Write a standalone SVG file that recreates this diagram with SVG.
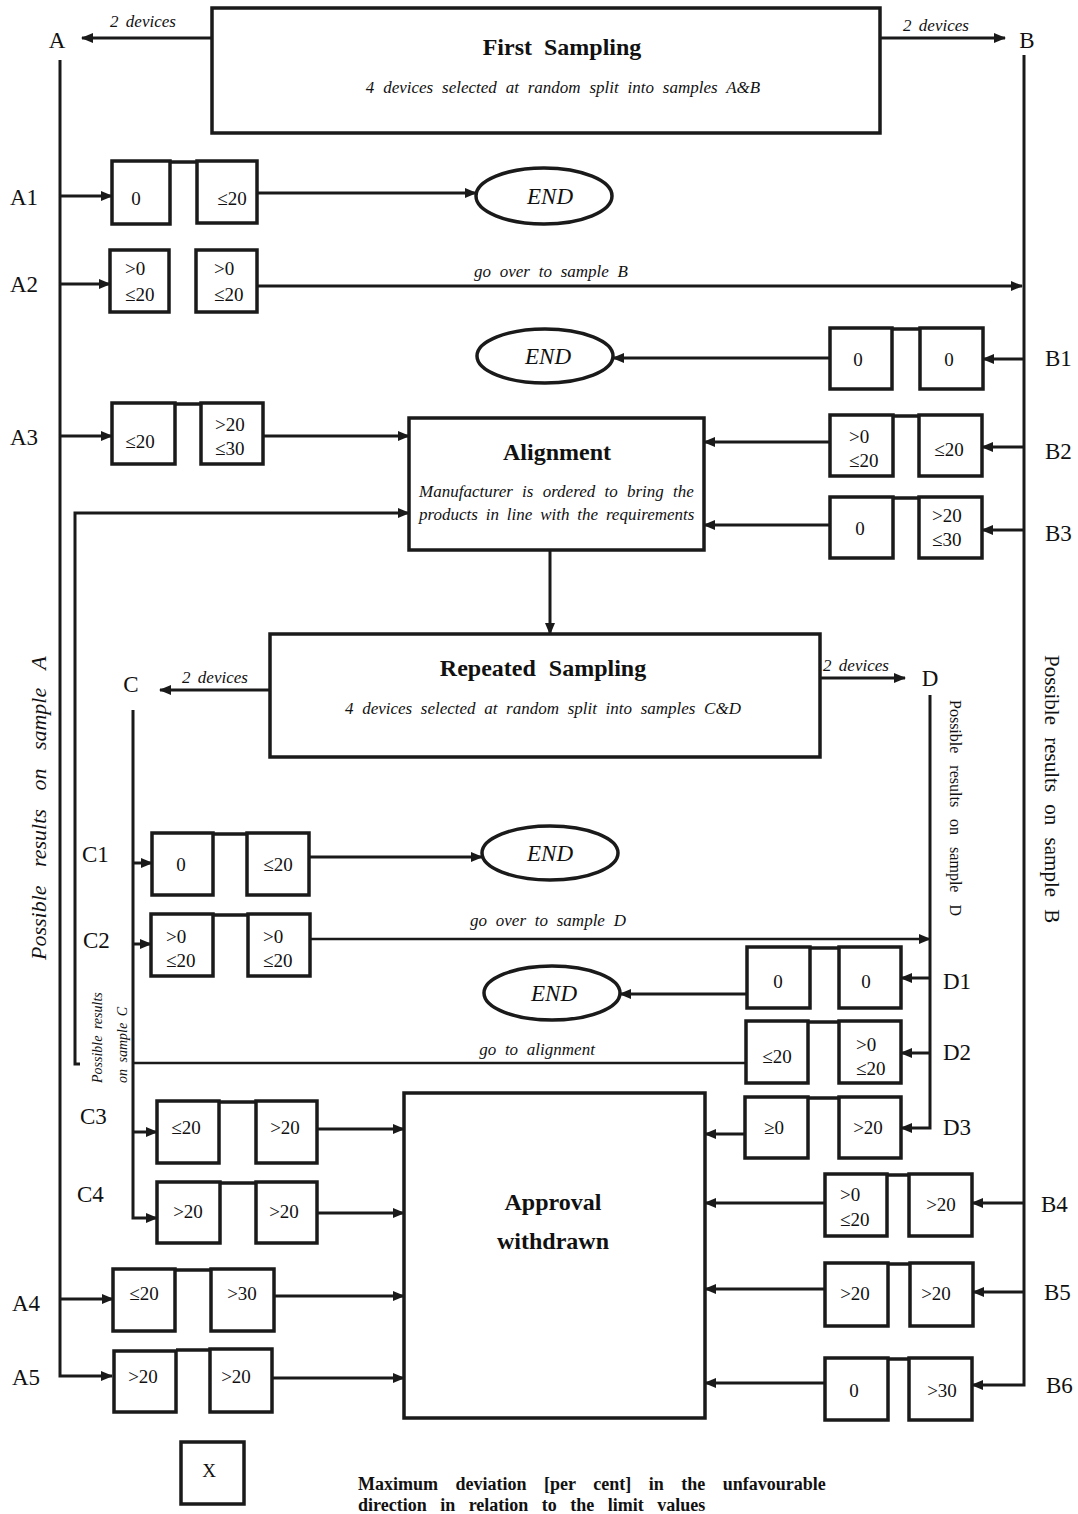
<svg xmlns="http://www.w3.org/2000/svg" width="1078" height="1514" viewBox="0 0 1078 1514">
<style>
text{font-family:"Liberation Serif","DejaVu Serif",serif;fill:#111}
.bx{fill:#fff;stroke:#1a1a1a;stroke-width:3.5}
.tc{fill:none;stroke:#1a1a1a;stroke-width:3.5}
.ln{fill:none;stroke:#1a1a1a;stroke-width:3}
.lnt{fill:none;stroke:#1a1a1a;stroke-width:2.5}
.num{font-size:19px}
.lab{font-size:23px}
.it{font-style:italic}
.bd{font-weight:bold}
.hd{font-weight:bold;font-size:24px}
.end{font-size:23px;font-style:italic}
.dv{font-size:17px;font-style:italic;word-spacing:3px}
</style>
<defs>
<marker id="ah" markerUnits="userSpaceOnUse" markerWidth="12" markerHeight="10" refX="11" refY="5" orient="auto">
<path d="M0,0 L12,5 L0,10 z" fill="#1a1a1a"/>
</marker>
</defs>

<g id="connectors">
<path class="ln" d="M212,38 H82" marker-end="url(#ah)"/>
<path class="ln" d="M880,38 H1005" marker-end="url(#ah)"/>
<path class="ln" d="M60,60 V1376 H112" marker-end="url(#ah)"/>
<path class="ln" d="M1024,55 V1385 H972" marker-end="url(#ah)"/>
<path class="ln" d="M60,196 H112" marker-end="url(#ah)"/>
<path class="ln" d="M257,193 H476" marker-end="url(#ah)"/>
<path class="ln" d="M60,284 H110" marker-end="url(#ah)"/>
<path class="ln" d="M257,286 H1022" marker-end="url(#ah)"/>
<path class="ln" d="M60,436 H112" marker-end="url(#ah)"/>
<path class="ln" d="M263,436 H409" marker-end="url(#ah)"/>
<path class="ln" d="M1024,359 H983" marker-end="url(#ah)"/>
<path class="ln" d="M830,358 H613" marker-end="url(#ah)"/>
<path class="ln" d="M1024,447 H982" marker-end="url(#ah)"/>
<path class="ln" d="M830,442 H704" marker-end="url(#ah)"/>
<path class="ln" d="M1024,530 H982" marker-end="url(#ah)"/>
<path class="ln" d="M830,525 H704" marker-end="url(#ah)"/>
<path class="ln" d="M550,550 V634" marker-end="url(#ah)"/>
<path class="ln" d="M80,1064 H75 V513 H409" marker-end="url(#ah)"/>
<path class="ln" d="M270,690 H160" marker-end="url(#ah)"/>
<path class="ln" d="M820,678 H905" marker-end="url(#ah)"/>
<path class="ln" d="M133,710 V1218 H157" marker-end="url(#ah)"/>
<path class="ln" d="M133,863 H152" marker-end="url(#ah)"/>
<path class="ln" d="M309,857 H482" marker-end="url(#ah)"/>
<path class="ln" d="M133,944 H151" marker-end="url(#ah)"/>
<path class="lnt" d="M310,939 H930" marker-end="url(#ah)"/>
<path class="ln" d="M930,695 V1128 H901" marker-end="url(#ah)"/>
<path class="ln" d="M930,978 H901" marker-end="url(#ah)"/>
<path class="ln" d="M747,994 H620" marker-end="url(#ah)"/>
<path class="ln" d="M930,1053 H901" marker-end="url(#ah)"/>
<path class="lnt" d="M746,1063 H133"/>
<path class="ln" d="M745,1134 H705" marker-end="url(#ah)"/>
<path class="ln" d="M133,1132 H157" marker-end="url(#ah)"/>
<path class="ln" d="M317,1129 H404" marker-end="url(#ah)"/>
<path class="ln" d="M317,1213 H404" marker-end="url(#ah)"/>
<path class="ln" d="M60,1299 H113" marker-end="url(#ah)"/>
<path class="ln" d="M274,1296 H404" marker-end="url(#ah)"/>
<path class="ln" d="M272,1378 H404" marker-end="url(#ah)"/>
<path class="ln" d="M1024,1203 H972" marker-end="url(#ah)"/>
<path class="ln" d="M825,1203 H705" marker-end="url(#ah)"/>
<path class="ln" d="M1024,1292 H973" marker-end="url(#ah)"/>
<path class="ln" d="M825,1289 H705" marker-end="url(#ah)"/>
<path class="ln" d="M825,1383 H705" marker-end="url(#ah)"/>
<text class="it" x="551" y="277" font-size="17" word-spacing="4.5" text-anchor="middle">go over to sample B</text>
<text class="it" x="548" y="926" font-size="17" word-spacing="4.5" text-anchor="middle">go over to sample D</text>
<text class="it" x="537" y="1055" font-size="17" word-spacing="4.5" text-anchor="middle">go to alignment</text>
<text class="dv" x="143" y="27" text-anchor="middle">2 devices</text>
<text class="dv" x="936" y="31" text-anchor="middle">2 devices</text>
<text class="dv" x="215" y="683" text-anchor="middle">2 devices</text>
<text class="dv" x="856" y="671" text-anchor="middle">2 devices</text>
</g>

<g id="labels">
<text class="lab" x="57" y="48" text-anchor="middle">A</text>
<text class="lab" x="1027" y="48" text-anchor="middle">B</text>
<text class="lab" x="131" y="692" text-anchor="middle">C</text>
<text class="lab" x="930" y="686" text-anchor="middle">D</text>
<text class="lab" x="10" y="205">A1</text>
<text class="lab" x="10" y="292">A2</text>
<text class="lab" x="10" y="445">A3</text>
<text class="lab" x="12" y="1311">A4</text>
<text class="lab" x="12" y="1385">A5</text>
<text class="lab" x="1045" y="366">B1</text>
<text class="lab" x="1045" y="459">B2</text>
<text class="lab" x="1045" y="541">B3</text>
<text class="lab" x="1041" y="1212">B4</text>
<text class="lab" x="1044" y="1300">B5</text>
<text class="lab" x="1046" y="1393">B6</text>
<text class="lab" x="82" y="862">C1</text>
<text class="lab" x="83" y="948">C2</text>
<text class="lab" x="80" y="1124">C3</text>
<text class="lab" x="77" y="1202">C4</text>
<text class="lab" x="943" y="989">D1</text>
<text class="lab" x="943" y="1060">D2</text>
<text class="lab" x="943" y="1135">D3</text>
<text class="it" font-size="22" word-spacing="13" transform="translate(46,960) rotate(-90)">Possible results on sample A</text>
<text font-size="21" word-spacing="7" transform="translate(1045,655) rotate(90)">Possible results on sample B</text>
<text font-size="16" word-spacing="8" transform="translate(950,700) rotate(90)">Possible results on sample D</text>
<text class="it" font-size="14" word-spacing="3" transform="translate(102,1083) rotate(-90)">Possible results</text>
<text class="it" font-size="14" word-spacing="3" transform="translate(127,1083) rotate(-90)">on sample C</text>
</g>

<g id="first-sampling">
<rect class="bx" x="212" y="8" width="668" height="125"/>
<text class="hd" x="562" y="55" word-spacing="6" text-anchor="middle">First Sampling</text>
<text class="it" x="563" y="93" font-size="17" word-spacing="4.6" text-anchor="middle">4 devices selected at random split into samples A&amp;B</text>
</g>

<g id="alignment">
<rect class="bx" x="409" y="418" width="295" height="132"/>
<text class="hd" x="557" y="460" text-anchor="middle">Alignment</text>
<text class="it" x="419" y="497" font-size="17" word-spacing="5">Manufacturer is ordered to bring the</text>
<text class="it" x="419" y="520" font-size="17" word-spacing="3.6">products in line with the requirements</text>
</g>

<g id="repeated-sampling">
<rect class="bx" x="270" y="634" width="550" height="123"/>
<text class="hd" x="543" y="676" word-spacing="7" text-anchor="middle">Repeated Sampling</text>
<text class="it" x="543" y="714" font-size="17" word-spacing="4.4" text-anchor="middle">4 devices selected at random split into samples C&amp;D</text>
</g>

<g id="approval-withdrawn">
<rect class="bx" x="404" y="1093" width="301" height="325"/>
<text class="hd" x="553" y="1210" text-anchor="middle">Approval</text>
<text class="hd" x="553" y="1249" text-anchor="middle">withdrawn</text>
</g>

<g id="end-1"><ellipse class="bx" cx="544" cy="196" rx="68" ry="28"/><text class="end" x="550" y="204" text-anchor="middle">END</text></g>
<g id="end-2"><ellipse class="bx" cx="545" cy="356" rx="68" ry="27"/><text class="end" x="548" y="364" text-anchor="middle">END</text></g>
<g id="end-3"><ellipse class="bx" cx="550" cy="853" rx="68" ry="27"/><text class="end" x="550" y="861" text-anchor="middle">END</text></g>
<g id="end-4"><ellipse class="bx" cx="552" cy="993" rx="68" ry="27"/><text class="end" x="554" y="1001" text-anchor="middle">END</text></g>

<g id="a1">
<path class="tc" d="M170,162 H197"/>
<rect class="bx" x="112" y="161" width="58" height="63"/>
<rect class="bx" x="197" y="161" width="60" height="62"/>
<text class="num" x="136" y="205" text-anchor="middle">0</text>
<text class="num" x="232" y="205" text-anchor="middle">≤20</text>
</g>
<g id="a2">
<rect class="bx" x="110" y="250" width="59" height="62"/>
<rect class="bx" x="196" y="250" width="61" height="62"/>
<text class="num" x="125" y="275">&gt;0</text>
<text class="num" x="125" y="301">≤20</text>
<text class="num" x="214" y="275">&gt;0</text>
<text class="num" x="214" y="301">≤20</text>
</g>
<g id="a3">
<path class="tc" d="M175,404 H201"/>
<rect class="bx" x="112" y="403" width="63" height="61"/>
<rect class="bx" x="201" y="403" width="62" height="61"/>
<text class="num" x="140" y="448" text-anchor="middle">≤20</text>
<text class="num" x="215" y="431">&gt;20</text>
<text class="num" x="215" y="455">≤30</text>
</g>
<g id="b1">
<path class="tc" d="M892,329 H920"/>
<rect class="bx" x="830" y="328" width="62" height="61"/>
<rect class="bx" x="920" y="328" width="63" height="61"/>
<text class="num" x="858" y="366" text-anchor="middle">0</text>
<text class="num" x="949" y="366" text-anchor="middle">0</text>
</g>
<g id="b2">
<path class="tc" d="M893,416 H919"/>
<rect class="bx" x="830" y="415" width="63" height="61"/>
<rect class="bx" x="919" y="415" width="63" height="61"/>
<text class="num" x="849" y="443">&gt;0</text>
<text class="num" x="849" y="467">≤20</text>
<text class="num" x="949" y="456" text-anchor="middle">≤20</text>
</g>
<g id="b3">
<path class="tc" d="M893,498 H919"/>
<rect class="bx" x="830" y="497" width="63" height="61"/>
<rect class="bx" x="919" y="497" width="63" height="61"/>
<text class="num" x="860" y="535" text-anchor="middle">0</text>
<text class="num" x="932" y="522">&gt;20</text>
<text class="num" x="932" y="546">≤30</text>
</g>
<g id="c1">
<path class="tc" d="M213,834 H247"/>
<rect class="bx" x="152" y="833" width="61" height="62"/>
<rect class="bx" x="247" y="833" width="62" height="62"/>
<text class="num" x="181" y="871" text-anchor="middle">0</text>
<text class="num" x="278" y="871" text-anchor="middle">≤20</text>
</g>
<g id="c2">
<path class="tc" d="M213,915 H248"/>
<rect class="bx" x="151" y="914" width="62" height="62"/>
<rect class="bx" x="248" y="914" width="62" height="62"/>
<text class="num" x="166" y="943">&gt;0</text>
<text class="num" x="166" y="967">≤20</text>
<text class="num" x="263" y="943">&gt;0</text>
<text class="num" x="263" y="967">≤20</text>
</g>
<g id="c3">
<path class="tc" d="M219,1102 H256"/>
<rect class="bx" x="157" y="1101" width="62" height="62"/>
<rect class="bx" x="256" y="1101" width="61" height="62"/>
<text class="num" x="186" y="1134" text-anchor="middle">≤20</text>
<text class="num" x="285" y="1134" text-anchor="middle">&gt;20</text>
</g>
<g id="c4">
<path class="tc" d="M220,1183 H256"/>
<rect class="bx" x="157" y="1182" width="63" height="61"/>
<rect class="bx" x="256" y="1182" width="61" height="61"/>
<text class="num" x="188" y="1218" text-anchor="middle">&gt;20</text>
<text class="num" x="284" y="1218" text-anchor="middle">&gt;20</text>
</g>
<g id="d1">
<path class="tc" d="M810,948 H839"/>
<rect class="bx" x="747" y="947" width="63" height="61"/>
<rect class="bx" x="839" y="947" width="62" height="61"/>
<text class="num" x="778" y="988" text-anchor="middle">0</text>
<text class="num" x="866" y="988" text-anchor="middle">0</text>
</g>
<g id="d2">
<path class="tc" d="M808,1022 H839"/>
<rect class="bx" x="746" y="1021" width="62" height="62"/>
<rect class="bx" x="839" y="1021" width="62" height="62"/>
<text class="num" x="777" y="1063" text-anchor="middle">≤20</text>
<text class="num" x="856" y="1051">&gt;0</text>
<text class="num" x="856" y="1075">≤20</text>
</g>
<g id="d3">
<path class="tc" d="M808,1098 H839"/>
<rect class="bx" x="745" y="1097" width="63" height="61"/>
<rect class="bx" x="839" y="1097" width="62" height="61"/>
<text class="num" x="774" y="1134" text-anchor="middle">≥0</text>
<text class="num" x="868" y="1134" text-anchor="middle">&gt;20</text>
</g>
<g id="a4">
<path class="tc" d="M175,1270 H211"/>
<rect class="bx" x="113" y="1269" width="62" height="62"/>
<rect class="bx" x="211" y="1269" width="63" height="62"/>
<text class="num" x="144" y="1300" text-anchor="middle">≤20</text>
<text class="num" x="242" y="1300" text-anchor="middle">&gt;30</text>
</g>
<g id="a5">
<path class="tc" d="M176,1350 H210"/>
<rect class="bx" x="114" y="1351" width="62" height="61"/>
<rect class="bx" x="210" y="1349" width="62" height="63"/>
<text class="num" x="143" y="1383" text-anchor="middle">&gt;20</text>
<text class="num" x="236" y="1383" text-anchor="middle">&gt;20</text>
</g>
<g id="b4">
<path class="tc" d="M887,1175 H909"/>
<rect class="bx" x="825" y="1174" width="62" height="62"/>
<rect class="bx" x="909" y="1174" width="63" height="62"/>
<text class="num" x="840" y="1201">&gt;0</text>
<text class="num" x="840" y="1226">≤20</text>
<text class="num" x="941" y="1211" text-anchor="middle">&gt;20</text>
</g>
<g id="b5">
<path class="tc" d="M888,1264 H910"/>
<rect class="bx" x="825" y="1263" width="63" height="63"/>
<rect class="bx" x="910" y="1263" width="63" height="63"/>
<text class="num" x="855" y="1300" text-anchor="middle">&gt;20</text>
<text class="num" x="936" y="1300" text-anchor="middle">&gt;20</text>
</g>
<g id="b6">
<path class="tc" d="M888,1359 H909"/>
<rect class="bx" x="825" y="1358" width="63" height="62"/>
<rect class="bx" x="909" y="1358" width="63" height="62"/>
<text class="num" x="854" y="1397" text-anchor="middle">0</text>
<text class="num" x="942" y="1397" text-anchor="middle">&gt;30</text>
</g>

<g id="legend">
<rect class="bx" x="181" y="1442" width="63" height="62"/>
<text class="num" x="209" y="1477" text-anchor="middle">X</text>
<text class="bd" x="358" y="1490" font-size="18" word-spacing="13">Maximum deviation [per cent] in the unfavourable</text>
<text class="bd" x="358" y="1511" font-size="18" word-spacing="9">direction in relation to the limit values</text>
</g>
</svg>
